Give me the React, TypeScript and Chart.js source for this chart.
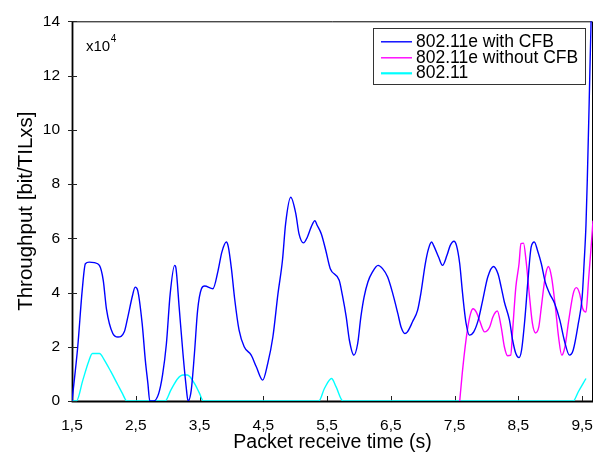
import React, { useEffect, useRef } from 'react';
import { Chart, registerables } from 'chart.js';

Chart.register(...registerables);

// ---- data (throughput in units of 1e4 bit/TILxs) ----
const seriesLabels = ['802.11e with CFB', '802.11e without CFB', '802.11'];
const seriesColors = ['#0000FF', '#FF00FF', '#00FFFF'];

const blueX = [1.5, 1.59, 1.66, 1.71, 1.77, 1.85, 1.93, 1.99, 2.04, 2.14, 2.22, 2.32, 2.37, 2.45, 2.49, 2.53, 2.6, 2.65, 2.69, 2.72, 2.78, 2.86, 2.92, 2.98, 3.04, 3.11, 3.13, 3.18, 3.24, 3.29, 3.32, 3.37, 3.42, 3.47, 3.53, 3.58, 3.71, 3.79, 3.85, 3.92, 3.95, 4.0, 4.05, 4.12, 4.2, 4.31, 4.39, 4.49, 4.57, 4.65, 4.73, 4.8, 4.85, 4.93, 5.01, 5.06, 5.13, 5.19, 5.25, 5.31, 5.34, 5.41, 5.48, 5.55, 5.69, 5.74, 5.8, 5.85, 5.92, 5.98, 6.03, 6.08, 6.14, 6.21, 6.3, 6.37, 6.45, 6.53, 6.61, 6.66, 6.72, 6.76, 6.84, 6.92, 6.97, 7.04, 7.09, 7.14, 7.17, 7.25, 7.31, 7.38, 7.43, 7.49, 7.53, 7.58, 7.62, 7.65, 7.68, 7.73, 7.8, 7.87, 7.94, 8.02, 8.11, 8.18, 8.23, 8.28, 8.36, 8.41, 8.46, 8.51, 8.55, 8.6, 8.65, 8.7, 8.75, 8.8, 8.86, 8.92, 8.99, 9.07, 9.15, 9.22, 9.3, 9.36, 9.44, 9.5, 9.53, 9.56, 9.58, 9.61, 9.64, 9.66];
const blueY = [0, 2.0, 4.08, 5.06, 5.12, 5.1, 5.0, 4.45, 3.4, 2.49, 2.36, 2.55, 3.04, 3.9, 4.2, 4.08, 2.86, 1.5, 0.65, 0, 0, 0.28, 0.96, 2.1, 3.96, 5.0, 4.9, 3.47, 1.75, 0.53, 0, 0.4, 1.75, 3.35, 4.14, 4.24, 4.14, 4.8, 5.49, 5.86, 5.7, 4.88, 3.78, 2.61, 2.0, 1.69, 1.26, 0.77, 1.39, 2.36, 3.96, 5.18, 6.54, 7.51, 6.9, 6.16, 5.83, 6.04, 6.41, 6.65, 6.5, 6.16, 5.55, 4.88, 4.45, 3.9, 3.1, 2.24, 1.69, 2.12, 3.1, 3.83, 4.39, 4.75, 5.0, 4.88, 4.57, 3.96, 3.22, 2.73, 2.49, 2.55, 2.92, 3.35, 3.96, 5.06, 5.61, 5.86, 5.74, 5.3, 5.0, 5.37, 5.73, 5.89, 5.73, 5.06, 4.08, 3.4, 2.86, 2.43, 2.55, 2.98, 3.71, 4.57, 4.96, 4.69, 4.2, 3.65, 2.98, 2.24, 1.75, 1.6, 1.88, 2.98, 4.45, 5.67, 5.86, 5.55, 5.06, 4.39, 3.96, 3.59, 2.98, 2.24, 1.69, 1.88, 2.86, 3.83, 5.06, 6.5, 8.1, 11.0, 14.0, 15.0];

const magentaX = [7.58, 7.63, 7.7, 7.75, 7.79, 7.84, 7.89, 7.97, 8.05, 8.1, 8.17, 8.23, 8.28, 8.33, 8.38, 8.41, 8.46, 8.51, 8.54, 8.58, 8.62, 8.67, 8.72, 8.77, 8.82, 8.86, 8.92, 8.97, 9.02, 9.08, 9.13, 9.18, 9.23, 9.29, 9.36, 9.41, 9.46, 9.51, 9.56, 9.6, 9.64, 9.67];
const magentaY = [0, 1.26, 2.61, 3.22, 3.4, 3.28, 2.98, 2.55, 2.73, 3.1, 3.32, 2.73, 2.0, 1.67, 1.69, 2.61, 4.2, 5.06, 5.8, 5.82, 5.18, 3.96, 2.86, 2.51, 2.73, 3.47, 4.57, 4.96, 4.57, 3.47, 2.36, 1.69, 2.0, 2.98, 3.96, 4.18, 3.96, 3.4, 3.28, 4.45, 5.67, 6.65];

const cyanX = [1.5, 1.57, 1.67, 1.76, 1.82, 1.93, 2.01, 2.11, 2.22, 2.29, 2.36, 2.96, 3.05, 3.16, 3.24, 3.31, 3.42, 3.5, 3.56, 5.37, 5.46, 5.57, 5.64, 5.75, 9.36, 9.44, 9.56];
const cyanY = [0, 0, 0.77, 1.45, 1.75, 1.75, 1.5, 1.08, 0.59, 0.28, 0, 0, 0.4, 0.83, 0.96, 0.96, 0.65, 0.28, 0, 0, 0.47, 0.83, 0.53, 0, 0, 0.34, 0.83];

const xTicks = [1.5, 2.5, 3.5, 4.5, 5.5, 6.5, 7.5, 8.5, 9.5];
const yTicks = [0, 2, 4, 6, 8, 10, 12, 14];
const xMin = 1.5;
const xMax = 9.67;
const yMin = 0;
const yMax = 14;

const FONT = '"Liberation Sans", Arial, Helvetica, sans-serif';

const toPoints = (xs: number[], ys: number[]) => xs.map((x, i) => ({ x, y: ys[i] }));

const framePlugin = {
  id: 'frame',
  beforeDatasetsDraw(chart: any) {
    const { ctx, chartArea: a, scales } = chart;
    ctx.save();
    ctx.strokeStyle = '#000';
    ctx.lineWidth = 1;
    ctx.beginPath();
    ctx.moveTo(a.left, a.top + 0.5);
    ctx.lineTo(a.right - 0.5, a.top + 0.5);
    ctx.lineTo(a.right - 0.5, a.bottom);
    ctx.stroke();
    ctx.lineWidth = 1.8;
    ctx.beginPath();
    ctx.moveTo(a.left + 0.5, a.top);
    ctx.lineTo(a.left + 0.5, a.bottom + 0.5);
    ctx.lineTo(a.right, a.bottom + 0.5);
    ctx.stroke();
    ctx.lineWidth = 1;
    ctx.strokeStyle = '#222';
    ctx.beginPath();
    xTicks.forEach((v) => {
      const px = Math.round(scales.x.getPixelForValue(v)) + 0.5;
      ctx.moveTo(px, a.bottom);
      ctx.lineTo(px, a.bottom - 5);
    });
    yTicks.forEach((v) => {
      const py = Math.round(scales.y.getPixelForValue(v)) + 0.5;
      ctx.moveTo(a.left - 4, py);
      ctx.lineTo(a.left + 5, py);
    });
    ctx.stroke();
    ctx.restore();
  },
  afterDraw(chart: any) {
    const { ctx, chartArea: a } = chart;
    ctx.save();
    ctx.fillStyle = '#000';
    ctx.textBaseline = 'alphabetic';
    ctx.textAlign = 'left';
    ctx.font = `15px ${FONT}`;
    const bx = a.left + 14;
    const by = a.top + 30;
    ctx.fillText('x10', bx, by);
    const w = ctx.measureText('x10').width;
    ctx.font = `10px ${FONT}`;
    ctx.fillText('4', bx + w + 0.5, by - 9);

    const boxW = 212;
    const boxH = 56;
    const lx = a.right - 8 - boxW;
    const ly = a.top + 6.5;
    ctx.fillStyle = '#fff';
    ctx.fillRect(lx, ly, boxW, boxH);
    ctx.strokeStyle = '#333';
    ctx.lineWidth = 1;
    ctx.strokeRect(Math.round(lx) + 0.5, Math.round(ly) + 0.5, boxW, boxH);
    ctx.font = `17.5px ${FONT}`;
    ctx.textBaseline = 'middle';
    const rows = [14, 30, 45.5];
    chart.data.datasets.forEach((ds: any, i: number) => {
      const ry = ly + rows[i];
      ctx.strokeStyle = ds.borderColor;
      ctx.lineWidth = i === 2 ? 2.2 : 1.4;
      ctx.beginPath();
      ctx.moveTo(lx + 8, ry);
      ctx.lineTo(lx + 39, ry);
      ctx.stroke();
      ctx.fillStyle = '#000';
      ctx.fillText(ds.label, lx + 43, ry);
    });
    ctx.restore();
  },
};

export default function App() {
  const canvasRef = useRef<HTMLCanvasElement | null>(null);

  useEffect(() => {
    const canvas = canvasRef.current;
    if (!canvas) return;
    const series = [toPoints(blueX, blueY), toPoints(magentaX, magentaY), toPoints(cyanX, cyanY)];
    const chart = new Chart(canvas, {
      type: 'line',
      data: {
        datasets: series.map((pts, i) => ({
          label: seriesLabels[i],
          data: pts,
          borderColor: seriesColors[i],
          backgroundColor: seriesColors[i],
          borderWidth: 1.4,
          pointRadius: 0,
          fill: false,
          cubicInterpolationMode: 'monotone' as const,
        })),
      },
      options: {
        responsive: false,
        animation: false,
        devicePixelRatio: 1,
        layout: { padding: { top: 20, right: 1, left: 0, bottom: 0 } },
        plugins: {
          legend: { display: false },
          tooltip: { enabled: false },
        },
        scales: {
          x: {
            type: 'linear',
            min: xMin,
            max: xMax,
            afterBuildTicks: (scale: any) => {
              scale.ticks = xTicks.map((v) => ({ value: v }));
            },
            afterFit: (scale: any) => {
              scale.height = 51;
              scale.paddingLeft = 0;
              scale.paddingRight = 0;
            },
            grid: { display: false, drawTicks: false },
            border: { display: false },
            ticks: {
              autoSkip: false,
              maxRotation: 0,
              padding: 15.5,
              color: '#000',
              font: { family: FONT, size: 15.5 },
              callback: (v: any) => Number(v).toFixed(1).replace('.', ','),
            },
            title: {
              display: true,
              text: 'Packet receive time (s)',
              color: '#000',
              font: { family: FONT, size: 19.5, lineHeight: 1 },
              padding: { top: 0, bottom: 0 },
            },
          },
          y: {
            type: 'linear',
            min: yMin,
            max: yMax,
            afterBuildTicks: (scale: any) => {
              scale.ticks = yTicks.map((v) => ({ value: v }));
            },
            afterFit: (scale: any) => {
              scale.width = 72;
            },
            grid: { display: false, drawTicks: false },
            border: { display: false },
            ticks: {
              padding: 12,
              color: '#000',
              font: { family: FONT, size: 15.5 },
              callback: (v: any) => String(v),
            },
            title: {
              display: true,
              text: 'Throughput [bit/TILxs]',
              color: '#000',
              font: { family: FONT, size: 20.5, lineHeight: 1.2 },
              padding: { top: 13.7, bottom: 0 },
            },
          },
        },
      },
      plugins: [framePlugin],
    });
    return () => chart.destroy();
  }, []);

  return (
    <div style={{ position: 'absolute', left: 0, top: 0, width: 594, height: 452, background: '#fff' }}>
      <canvas ref={canvasRef} width={594} height={452} style={{ display: 'block', width: 594, height: 452 }} />
    </div>
  );
}
